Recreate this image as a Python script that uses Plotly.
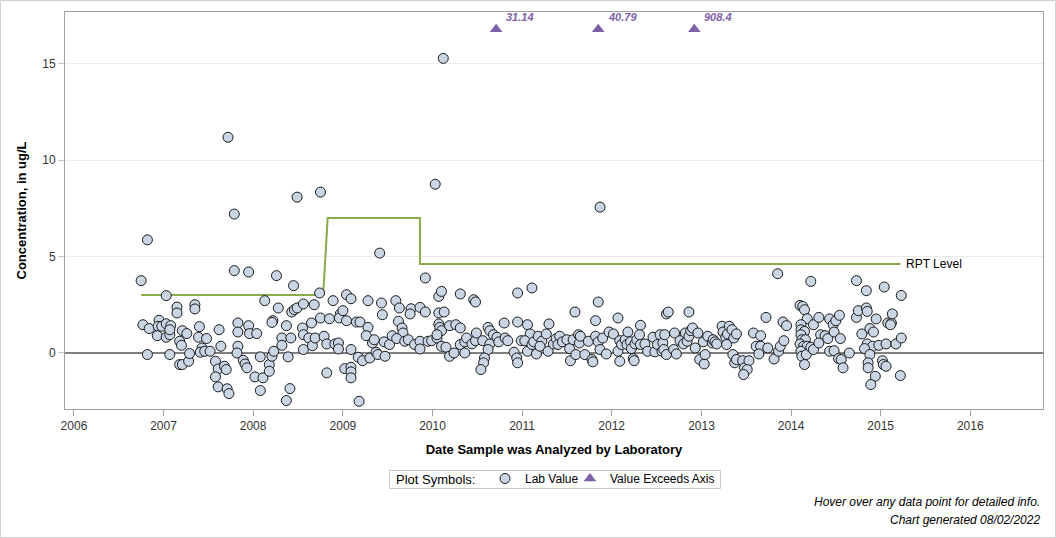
import datetime as dt
import plotly.graph_objects as go

# ---------------- data (decimal years, ug/L) ----------------
lab_year = [
    2006.75, 2006.82, 2007.72, 2007.79, 2008.49, 2008.75, 2009.41, 2010.12, 2010.03, 2011.87, 2009.92,
    2007.03, 2006.77, 2006.84, 2006.82, 2006.95, 2006.94, 2006.93, 2006.98, 2007.03, 2007.03,
    2007.07, 2007.08, 2007.07, 2007.07, 2007.15, 2007.15, 2007.18, 2007.20, 2007.21, 2007.26,
    2007.18, 2007.21, 2007.28, 2007.29, 2007.35, 2007.35, 2007.40, 2007.39, 2007.48, 2007.43,
    2007.41, 2007.46, 2007.52, 2007.62, 2007.64, 2007.58, 2007.61, 2007.68, 2007.70, 2007.58,
    2007.61, 2007.71, 2007.73, 2007.79, 2007.95, 2007.83, 2007.83, 2007.83, 2007.82, 2007.95,
    2007.96, 2008.04, 2007.89, 2007.91, 2007.93, 2008.02, 2008.08, 2008.08, 2008.11, 2008.13,
    2008.26, 2008.28, 2008.22, 2008.21, 2008.37, 2008.18, 2008.18, 2008.21, 2008.23, 2008.32,
    2008.32, 2008.39, 2008.42, 2008.41, 2008.37, 2008.45, 2008.43, 2008.46, 2008.49, 2008.56,
    2008.55, 2008.56, 2008.56, 2008.65, 2008.62, 2008.66, 2008.69, 2008.68, 2008.74, 2008.75,
    2008.79, 2008.82, 2008.82,
    2008.89, 2008.85, 2009.04, 2009.09, 2008.97, 2008.96, 2009.00, 2009.04, 2008.91, 2008.95,
    2008.95, 2009.09, 2009.02, 2009.09, 2009.09, 2009.09, 2009.18, 2009.15, 2009.19, 2009.28,
    2009.28, 2009.26, 2009.17, 2009.22, 2009.30, 2009.33, 2009.35, 2009.37, 2009.39, 2009.47,
    2009.43, 2009.44, 2009.46, 2009.52, 2009.55, 2009.59, 2009.63, 2009.62, 2009.66, 2009.67,
    2009.60, 2009.69, 2009.76, 2009.75, 2009.86, 2009.92, 2009.73, 2009.80, 2009.86, 2009.86,
    2009.95, 2009.99, 2010.05, 2010.07, 2010.10, 2010.07, 2010.13, 2010.07, 2010.08, 2010.10,
    2010.05, 2010.10, 2010.15, 2010.19, 2010.24, 2010.19, 2010.26, 2010.31, 2010.31, 2010.46,
    2010.48, 2010.31, 2010.36, 2010.38, 2010.36, 2010.44, 2010.48, 2010.49, 2010.56, 2010.62,
    2010.64, 2010.68, 2010.64, 2010.62, 2010.58, 2010.57, 2010.54, 2010.72, 2010.74, 2010.81,
    2010.84, 2010.80, 2010.95, 2010.95, 2010.91, 2010.94, 2010.95, 2010.99,
    2011.11, 2011.06, 2011.09, 2011.03, 2011.06, 2011.11, 2011.16, 2011.13, 2011.18, 2011.22,
    2011.20, 2011.27, 2011.30, 2011.29, 2011.35, 2011.38, 2011.42, 2011.40, 2011.45, 2011.50,
    2011.53, 2011.54, 2011.57, 2011.60, 2011.59, 2011.63, 2011.64, 2011.65, 2011.70, 2011.74,
    2011.78, 2011.79, 2011.82, 2011.82, 2011.85, 2011.85, 2011.87, 2011.90, 2011.94, 2011.97,
    2012.02, 2012.07, 2012.07, 2012.09, 2012.09, 2012.11, 2012.15, 2012.18, 2012.17, 2012.21,
    2012.24, 2012.25, 2012.22, 2012.26, 2012.28, 2012.32, 2012.31, 2012.32, 2012.37, 2012.40,
    2012.46, 2012.48, 2012.51, 2012.54, 2012.56, 2012.57, 2012.58, 2012.59, 2012.61, 2012.63,
    2012.61, 2012.70, 2012.69, 2012.72, 2012.76, 2012.80, 2012.82, 2012.86, 2012.84, 2012.86,
    2012.88, 2012.90, 2012.93, 2012.96, 2012.98, 2013.02, 2013.03, 2013.04, 2013.07, 2013.12,
    2013.13,
    2013.15, 2013.17, 2013.23, 2013.24, 2013.27, 2013.28, 2013.29, 2013.31, 2013.34, 2013.36,
    2013.39, 2013.35, 2013.37, 2013.39, 2013.46, 2013.48, 2013.53, 2013.51, 2013.47, 2013.58,
    2013.66, 2013.61, 2013.66, 2013.64, 2013.74, 2013.72, 2013.81, 2013.86, 2013.88, 2013.92,
    2013.91, 2013.95, 2013.85, 2014.10, 2014.13, 2014.15, 2014.18, 2014.22, 2014.11, 2014.11,
    2014.15, 2014.11, 2014.12, 2014.16, 2014.10, 2014.14, 2014.18, 2014.11, 2014.12, 2014.17,
    2014.15, 2014.22, 2014.25, 2014.25, 2014.31, 2014.33, 2014.31, 2014.38, 2014.41, 2014.43,
    2014.47, 2014.50, 2014.54, 2014.48, 2014.55, 2014.43, 2014.48, 2014.53, 2014.56, 2014.58,
    2014.65, 2014.73, 2014.84, 2015.04, 2015.23, 2014.73, 2014.75, 2014.84, 2014.85, 2014.95,
    2014.79, 2014.88, 2014.92, 2014.85, 2014.91, 2014.82, 2014.88, 2014.86, 2014.86, 2014.94,
    2014.89, 2014.98, 2015.06, 2015.02, 2015.03, 2015.06, 2015.08, 2015.12, 2015.13, 2015.11,
    2015.17, 2015.23, 2015.22,
]
lab_value = [
    3.74, 5.86, 11.19, 7.20, 8.08, 8.34, 5.17, 15.29, 8.75, 7.56, 3.88,
    2.96, 1.45, 1.25, -0.10, 1.68, 1.37, 0.88, 1.37, 1.50, 0.80,
    0.93, 1.40, 1.19, -0.10, 2.37, 2.06, 0.59, 0.38, 1.14, 0.99,
    -0.62, -0.62, -0.45, -0.05, 2.49, 2.27, 1.35, 0.80, 0.73, 0.24,
    0.02, 0.07, 0.07, 1.19, 0.33, -0.45, -0.85, -0.71, -0.88, -1.26,
    -1.78, -1.88, -2.13, 4.26, 4.19, 1.54, 1.07, 0.33, -0.02, 1.40,
    0.99, 0.99, -0.40, -0.59, -0.79, -1.26, -0.22, -1.97, -1.31, 2.70,
    4.00, 2.32, 1.66, 1.57, 1.40, -0.62, -0.97, -0.19, 0.07, 0.76,
    0.38, -0.22, 0.76, -1.87, -2.49, 3.48, 2.11, 2.23, 2.32, 2.53,
    1.28, 0.93, 0.16, 1.54, 0.76, 0.36, 0.76, 2.49, 3.10, 1.80,
    0.85, 0.45, -1.05,
    2.70, 1.76, 3.01, 2.80, 2.01, 1.80, 2.18, 1.66, 0.45, 0.50,
    0.19, 0.16, -0.83, -0.76, -1.00, -1.31, -2.53, 1.59, 1.59, 2.70,
    1.31, 0.88, -0.24, -0.42, -0.28, 0.50, 0.67, 0.02, -0.10, -0.19,
    2.58, 1.97, 0.56, 0.42, 0.88, 2.70, 2.32, 1.63, 1.28, 1.02,
    0.73, 0.59, 2.28, 2.01, 2.35, 2.11, 0.67, 0.42, 0.59, 0.19,
    0.59, 0.62, 0.76, 2.92, 3.18, 2.06, 2.11, 1.49, 1.31, 1.14,
    0.93, 0.33, 0.28, -0.19, -0.02, 1.40, 1.45, 1.28, 3.05, 2.75,
    2.63, 0.42, 0.56, 0.76, -0.02, 0.45, 0.62, 1.02, 0.62, 1.31,
    1.14, 0.93, 0.45, 0.16, -0.28, -0.53, -0.88, 0.80, 0.56, 0.76,
    0.62, 1.54, 3.10, 1.59, 0.02, -0.28, -0.53, 0.62,
    3.36, 1.45, 0.97, 0.62, 0.07, 0.42, -0.07, 0.56, 0.85, 0.59,
    0.33, 0.97, 1.49, 0.07, 0.45, 0.73, 0.85, 0.42, 0.56, 0.67,
    0.21, -0.42, 0.67, -0.10, 2.11, 0.93, 0.50, 0.85, -0.10, 0.59,
    -0.36, -0.48, 1.66, 0.85, 2.63, 0.56, 0.16, 0.76, -0.07, 1.07,
    0.97, 1.80, 0.07, -0.45, 0.62, 0.42, 0.67, 1.07, 0.42, 0.56,
    -0.31, -0.42, 0.21, 0.45, 0.67, 1.42, 0.93, 0.42, 0.45, 0.07,
    0.80, 0.04, 0.42, 0.93, 0.07, 0.50, 0.16, 0.93, 2.01, 2.11,
    -0.10, 1.02, 0.16, -0.07, 0.62, 0.45, 1.02, 2.11, 0.59, 0.85,
    1.14, 1.28, 0.24, 1.02, -0.36, 0.56, -0.59, -0.10, 0.85, 0.50,
    0.67,
    0.56, 0.45, 1.37, 1.07, 0.80, 0.42, 0.97, 1.37, 1.19, 0.76,
    0.97, -0.10, -0.53, -0.36, -0.42, -0.79, -0.42, -0.88, -1.14, 1.02,
    0.88, 0.33, 0.33, -0.07, 0.24, 1.83, -0.33, 0.07, 0.33, 0.62,
    1.59, 1.40, 4.10, 2.45, 2.40, 2.23, 1.76, 3.70, 1.45, 1.19,
    1.10, 0.93, 0.67, 0.67, 0.45, 0.33, 0.33, 0.07, -0.19, -0.10,
    -0.62, 0.28, 0.16, 1.45, 1.83, 0.93, 0.50, 0.88, 0.73, 1.75,
    1.45, 1.66, 1.94, 1.07, 0.73, 0.07, 0.10, -0.31, -0.36, -0.79,
    -0.02, 3.74, 3.22, 3.41, 2.97, 1.83, 2.18, 2.32, 2.14, 1.75,
    0.97, 1.25, 1.07, 0.45, 0.33, 0.21, -0.10, -0.53, -0.79, -1.23,
    -1.66, 0.38, 0.45, -0.42, -0.62, -0.71, 1.54, 1.54, 2.01, 1.45,
    0.45, 0.76, -1.19,
]

exceed_year = [2010.71, 2011.85, 2012.92]
exceed_value = [31.14, 40.79, 908.4]
exceed_label = ["31.14", "40.79", "908.4"]
AXIS_CAP = 16.8

rpt_year = [2006.75, 2008.78, 2008.83, 2009.86, 2009.86, 2015.22]
rpt_value = [3, 3, 7, 7, 4.6, 4.6]

year_ticks = [2006, 2007, 2008, 2009, 2010, 2011, 2012, 2013, 2014, 2015, 2016]
y_ticks = [0, 5, 10, 15]
x_range_years = [2005.90, 2016.81]
y_range = [-2.93, 17.70]


def to_date(y):
    yr = int(y)
    start = dt.datetime(yr, 1, 1)
    end = dt.datetime(yr + 1, 1, 1)
    return start + (end - start) * (y - yr)


FONT = "Liberation Sans, Arial, sans-serif"
W, H = 1056, 538
L, R, T, B = 65, 13, 12, 129
PW, PH = W - L - R, H - T - B


def px_x(px):
    return (px - L) / PW


def px_y(py):
    return (T + PH - py) / PH


fig = go.Figure()

fig.add_trace(go.Scatter(
    x=[to_date(y) for y in rpt_year], y=rpt_value, mode="lines",
    line=dict(color="#8aaa4c", width=2), showlegend=False, hoverinfo="skip"))

fig.add_trace(go.Scatter(
    x=[to_date(y) for y in lab_year], y=lab_value, mode="markers",
    name="Lab Value", legend="legend",
    marker=dict(symbol="circle", size=10, color="#cad5e5",
                line=dict(color="#1a1a1a", width=1))))

fig.add_trace(go.Scatter(
    x=[to_date(y) for y in exceed_year],
    y=[min(v, AXIS_CAP) for v in exceed_value], mode="markers",
    name="Value Exceeds Axis", legend="legend2",
    marker=dict(symbol="triangle-up", size=11, color="#7d61a6",
                line=dict(width=0))))

annotations = []
for yv, lab in zip(exceed_year, exceed_label):
    annotations.append(dict(
        x=to_date(yv), y=AXIS_CAP, xref="x", yref="y", text=f"<b><i>{lab}</i></b>",
        showarrow=False, xanchor="left", yanchor="middle", xshift=8, yshift=12,
        font=dict(family=FONT, size=11, color="#7d61a6")))

annotations.append(dict(
    x=to_date(rpt_year[-1]), y=rpt_value[-1], xref="x", yref="y", text="RPT Level",
    showarrow=False, xanchor="left", yanchor="middle", xshift=4,
    font=dict(family=FONT, size=12, color="#000000")))

annotations.append(dict(
    x=px_x(1042), y=px_y(502), xref="paper", yref="paper",
    text="<i>Hover over any data point for detailed info.</i>", showarrow=False,
    xanchor="right", yanchor="middle", font=dict(family=FONT, size=12, color="#000")))
annotations.append(dict(
    x=px_x(1042), y=px_y(520), xref="paper", yref="paper",
    text="<i>Chart generated 08/02/2022</i>", showarrow=False,
    xanchor="right", yanchor="middle", font=dict(family=FONT, size=12, color="#000")))
annotations.append(dict(
    x=px_x(394), y=px_y(479), xref="paper", yref="paper",
    text="Plot Symbols:", showarrow=False,
    xanchor="left", yanchor="middle", font=dict(family=FONT, size=13, color="#000")))

shapes = [
    dict(type="rect", xref="paper", yref="paper",
         x0=px_x(0.5), x1=px_x(W - 0.5), y0=px_y(H - 0.5), y1=px_y(0.5),
         line=dict(color="#d0d0d0", width=1), fillcolor="rgba(0,0,0,0)", layer="below"),
    dict(type="rect", xref="paper", yref="paper",
         x0=px_x(389.5), x1=px_x(720.5), y0=px_y(488.5), y1=px_y(470.5),
         line=dict(color="#c8c8c8", width=1), fillcolor="rgba(0,0,0,0)", layer="below"),
]

legend_common = dict(
    orientation="h", xanchor="left", yanchor="top", y=px_y(464),
    borderwidth=0, bgcolor="rgba(0,0,0,0)",
    font=dict(family=FONT, size=12, color="#000"), itemwidth=30)

fig.update_layout(
    width=W, height=H,
    margin=dict(l=L, r=R, t=T, b=B, pad=0),
    paper_bgcolor="white", plot_bgcolor="white",
    font=dict(family=FONT, size=12, color="#000"),
    annotations=annotations, shapes=shapes,
    legend=dict(legend_common, x=px_x(485)),
    legend2=dict(legend_common, x=px_x(570)),
    xaxis=dict(
        type="date", range=[to_date(x_range_years[0]), to_date(x_range_years[1])],
        tickvals=[dt.datetime(y, 1, 1) for y in year_ticks],
        ticktext=[str(y) for y in year_ticks],
        ticks="outside", ticklen=6, tickcolor="#a0a0a0",
        showgrid=False, zeroline=False,
        showline=True, mirror=True, linecolor="#a0a0a0", linewidth=1,
        tickfont=dict(family=FONT, size=12, color="#333"),
        title=dict(text="<b>Date Sample was Analyzed by Laboratory</b>",
                   font=dict(family=FONT, size=13, color="#000"), standoff=12)),
    yaxis=dict(
        range=y_range, tickvals=y_ticks,
        ticks="outside", ticklen=6, tickcolor="#c8c8c8",
        showgrid=True, gridcolor="#ebebeb", gridwidth=1,
        zeroline=True, zerolinecolor="#808080", zerolinewidth=2,
        showline=True, mirror=True, linecolor="#a0a0a0", linewidth=1,
        tickfont=dict(family=FONT, size=12, color="#333"),
        title=dict(text="<b>Concentration, in ug/L</b>",
                   font=dict(family=FONT, size=13, color="#000"), standoff=12)),
)

fig.write_html("out.html")
